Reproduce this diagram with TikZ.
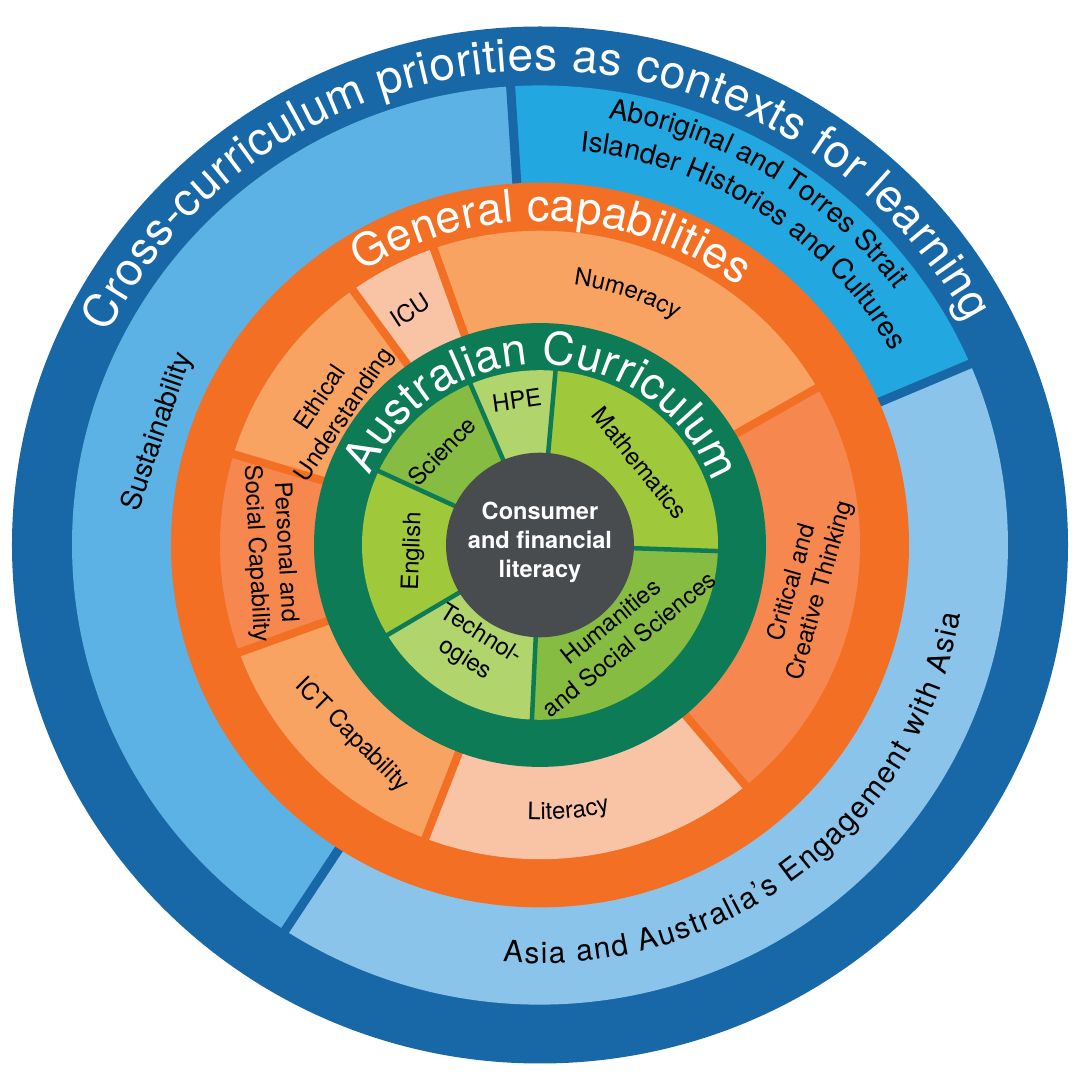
\documentclass[tikz,border=0pt]{standalone}
\usepackage{fontspec}
\setmainfont{TeX Gyre Heros}
\usetikzlibrary{decorations.text}
\tikzset{every picture/.style={line width=0.75pt}}

\definecolor{ringblue}{HTML}{1868A8}
\definecolor{sustblue}{HTML}{5CB2E4}
\definecolor{aborblue}{HTML}{22A7E0}
\definecolor{asiablue}{HTML}{8BC4EA}
\definecolor{ringorange}{HTML}{F26F24}
\definecolor{midorange}{HTML}{F9A363}
\definecolor{paleorange}{HTML}{F9C3A5}
\definecolor{deeporange}{HTML}{F5874F}
\definecolor{ringgreen}{HTML}{0D7B55}
\definecolor{midgreen}{HTML}{85BC41}
\definecolor{palegreen}{HTML}{B1D46C}
\definecolor{limegreen}{HTML}{A0C83B}
\definecolor{coregrey}{HTML}{494C4E}

\newcommand\crossfont{\fontsize{13.1}{15}\selectfont\color{white}}
\newcommand\titlefont{\fontsize{12.8}{15}\selectfont\color{white}}
\newcommand\ringfont{\fontsize{8}{9.6}\selectfont}
\newcommand\asiafont{\fontsize{8.5}{10}\selectfont}
\newcommand\lblfont{\fontsize{6.8}{8.3}\selectfont}
\newcommand\cflfont{\fontsize{6.7}{8.25}\selectfont\bfseries}
\newcommand\ringslice[4]{\fill[#1] (0,0) -- (#2:#4) arc[start angle=#2, end angle=#3, radius=#4] -- cycle;}

\tikzset{
  lbl/.style={font=\lblfont, align=center, inner sep=0pt},
  ringlbl/.style={font=\ringfont, align=center, inner sep=0pt},
  bluesep/.style={draw=ringblue, line width=2.56pt},
  orangesep/.style={draw=ringorange, line width=2.28pt},
  greensep/.style={draw=ringgreen, line width=1.28pt},
  curved/.style={decorate, decoration={text along path, text align=#1}},
}

\begin{document}
\begin{tikzpicture}[x=0.01cm, y=0.01cm, yscale=0.982]
    \useasboundingbox (-540,-544.8) rectangle (542,555);
    \fill[white] (-540,-544.8) rectangle (542,555);
    % Cross-curriculum priorities
    \fill[ringblue] (0,0) circle[radius=528];
    \ringslice{sustblue}{93.6}{237}{468}
    \ringslice{asiablue}{-123}{23.2}{468}
    \ringslice{aborblue}{23.2}{93.6}{468}
    \draw[bluesep] (93.6:300) -- (93.6:475);
    \draw[bluesep] (23.2:300) -- (23.2:475);
    \draw[bluesep] (237:300) -- (237:475);
    % General capabilities
    \fill[ringorange] (0,0) circle[radius=369];
    \ringslice{midorange}{30}{109.4}{320}
    \ringslice{paleorange}{109.4}{125.8}{320}
    \ringslice{midorange}{125.8}{163.2}{320}
    \ringslice{deeporange}{163.2}{200}{320}
    \ringslice{midorange}{200}{249}{320}
    \ringslice{paleorange}{249}{310}{320}
    \ringslice{deeporange}{-50}{30}{320}
    \draw[orangesep] (30:200) -- (30:326);
    \draw[orangesep] (109.4:200) -- (109.4:326);
    \draw[orangesep] (125.8:200) -- (125.8:326);
    \draw[orangesep] (163.2:200) -- (163.2:326);
    \draw[orangesep] (200:200) -- (200:326);
    \draw[orangesep] (249:200) -- (249:326);
    \draw[orangesep] (-50:200) -- (-50:326);
    % Learning areas
    \fill[ringgreen] (0,0) circle[radius=226];
    \ringslice{limegreen}{-2}{85}{178}
    \ringslice{palegreen}{85}{113}{178}
    \ringslice{midgreen}{113}{155}{178}
    \ringslice{limegreen}{155}{211}{178}
    \ringslice{palegreen}{211}{267.4}{178}
    \ringslice{midgreen}{267.4}{358}{178}
    \draw[greensep] (-2:80) -- (-2:180);
    \draw[greensep] (85:80) -- (85:180);
    \draw[greensep] (113:80) -- (113:180);
    \draw[greensep] (155:80) -- (155:180);
    \draw[greensep] (211:80) -- (211:180);
    \draw[greensep] (267.4:80) -- (267.4:180);
    % Core
    \fill[coregrey] (0,0) circle[radius=94];
    \node[font=\cflfont, text=white, align=center, inner sep=0pt] (cfl) at (0,3) {Consumer\\and financial\\literacy};
    % Ring titles
    \path[curved={fit to path}, decoration={text={|\crossfont|Cross-curriculum priorities as contexts for learning}}]
        (153.5:483) arc[start angle=153.5, end angle=27.9, radius=483];
    \path[curved={fit to path}, decoration={text={|\titlefont|General capabilities}}]
        (122.6:330) arc[start angle=122.6, end angle=53, radius=330];
    \path[curved={fit to path}, decoration={text={|\titlefont|Australian Curriculum}}]
        (157.6:184) arc[start angle=157.6, end angle=20.1, radius=184];
    % Priorities
    \node[ringlbl, rotate=71] (sustain) at (163.2:399) {Sustainability};
    \path[curved=center, decoration={text={|\ringfont|Aboriginal and Torres Strait}}]
        (93.55:440) arc[start angle=93.55, end angle=23.55, radius=440];
    \path[curved=center, decoration={text={|\ringfont|Islander Histories and Cultures}}]
        (91.75:403) arc[start angle=91.75, end angle=21.75, radius=403];
    \path[curved={fit to path}, decoration={text={|\asiafont|Asia and Australia’s Engagement with Asia}}]
        (-95:426) arc[start angle=-95, end angle=-9.6, radius=426];
    % Capabilities
    \path[curved=center, decoration={text={|\lblfont|Numeracy}}]
        (102:267) arc[start angle=102, end angle=40, radius=267];
    \path[curved=center, decoration={text={|\lblfont|Literacy}}]
        (-114:280) arc[start angle=-114, end angle=-54, radius=280];
    \node[lbl, rotate=33] (icu) at (118.5:272) {ICU};
    \node[lbl, rotate=56] (ethical) at (145.8:250) {Ethical\\Understanding};
    \node[lbl, rotate=-87] (personal) at (181.7:270) {Personal and\\Social Capability};
    \node[lbl, rotate=-45] (ict) at (225.8:270) {ICT Capability};
    \node[lbl, rotate=74] (critical) at (-9.1:270) {Critical and\\Creative Thinking};
    % Learning areas
    \node[lbl, rotate=46] (science) at (135.7:137) {Science};
    \node[lbl, rotate=8] (hpe) at (98.9:149.5) {HPE};
    \node[lbl, rotate=-51] (maths) at (39.9:130) {Mathematics};
    \node[lbl, rotate=88] (english) at (183:127) {English};
    \node[lbl, rotate=-32] (tech) at (237.2:124) {Technol-\\ogies};
    \node[lbl, rotate=39] (hass) at (-48.2:120) {Humanities\\and Social Sciences};
\end{tikzpicture}
\end{document}
